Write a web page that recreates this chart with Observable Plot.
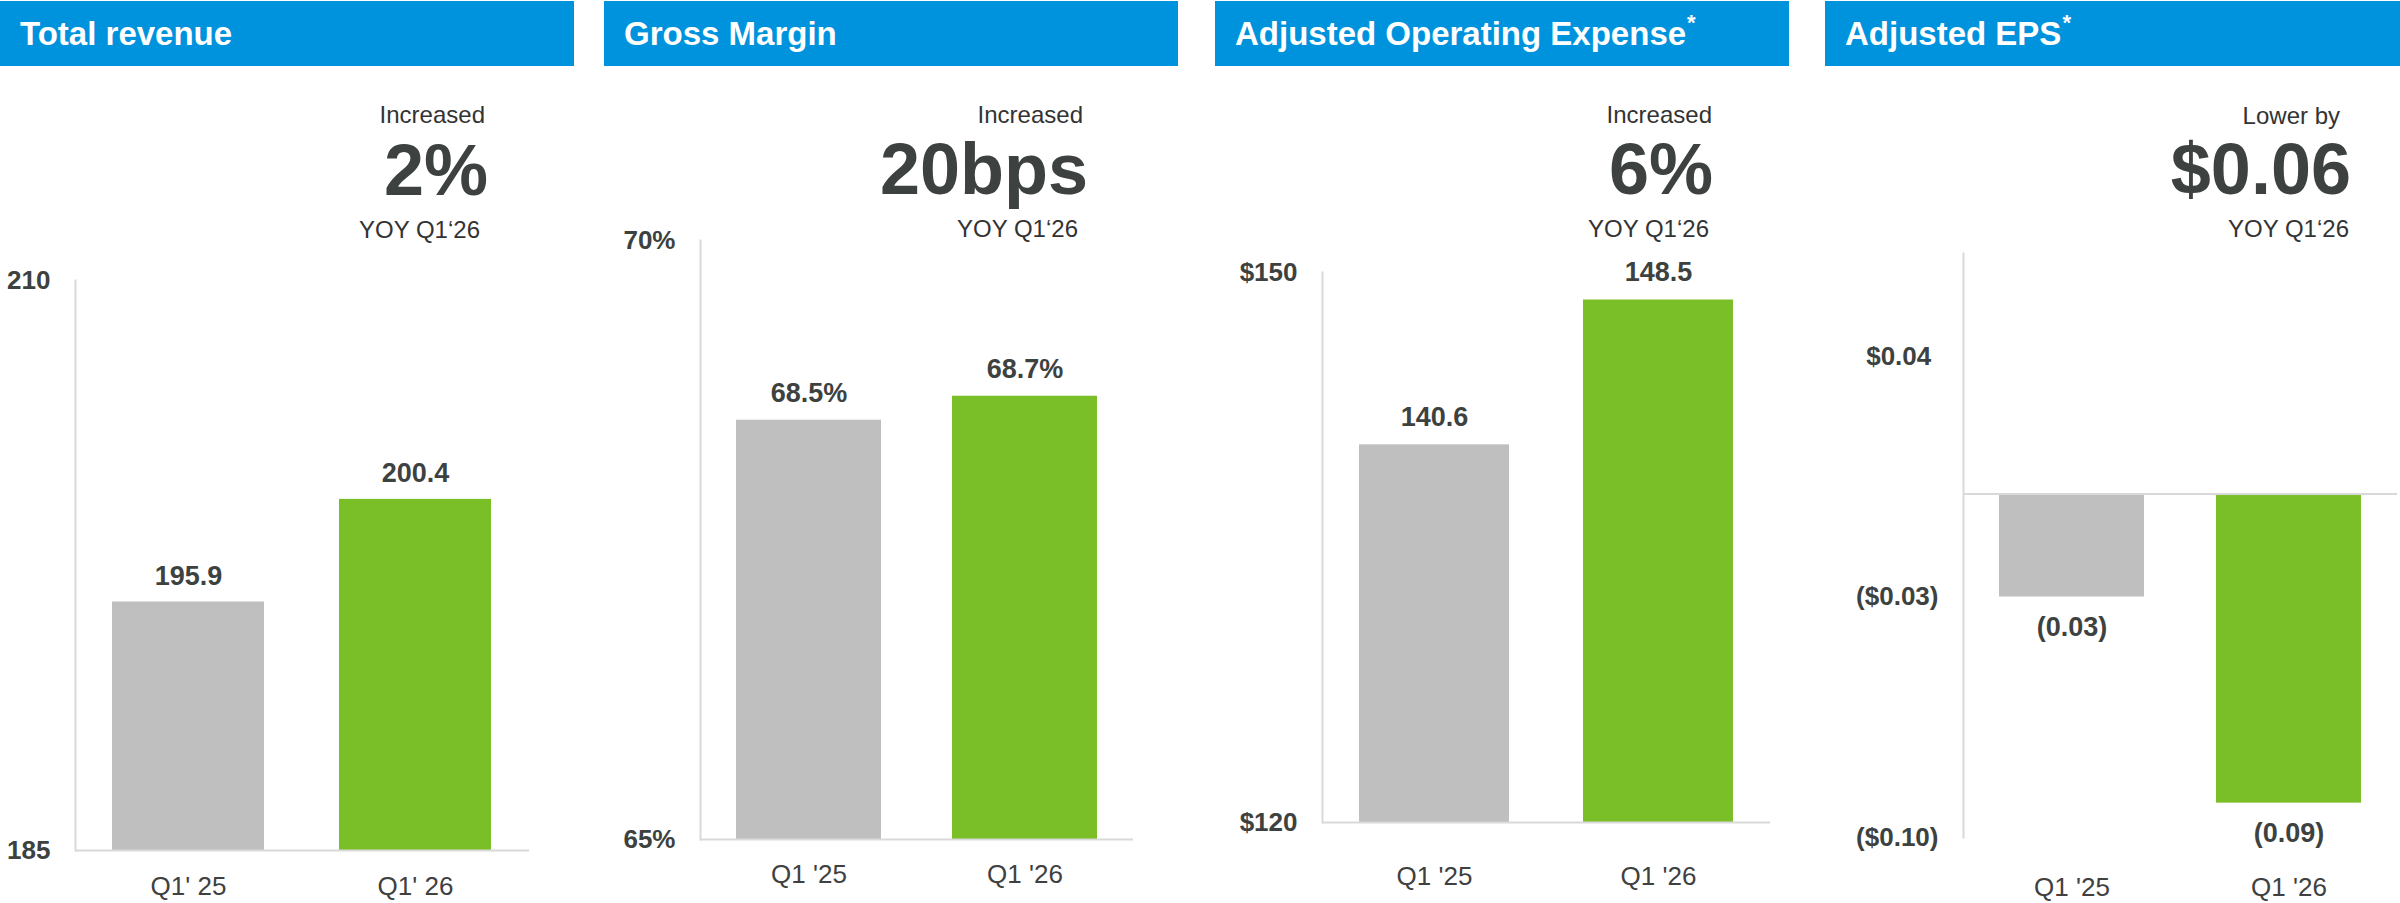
<!DOCTYPE html>
<html><head><meta charset="utf-8">
<script src="https://cdn.jsdelivr.net/npm/d3@7"></script>
<script src="https://cdn.jsdelivr.net/npm/@observablehq/plot@0.6"></script>
<style>
body{margin:0;background:#fff;}
#page{position:relative;width:2400px;height:903px;overflow:hidden;font-family:"Liberation Sans",Arial,sans-serif;background:#fff;}
.hdr{position:absolute;top:1px;height:65px;background:#0093dd;color:#fff;font-weight:bold;font-size:33px;display:flex;align-items:center;box-sizing:border-box;padding-left:20px;white-space:nowrap;}
.hdr .star{font-size:22px;position:relative;top:-11px;margin-left:1px;}
.ann{position:absolute;width:400px;text-align:right;white-space:nowrap;line-height:1;}
.chart{position:absolute;top:0;}
</style></head><body><div id="page"></div>
<script>
// ---- data ----
const titles = ["Total revenue", "Gross Margin", "Adjusted Operating Expense", "Adjusted EPS"];
const titleMarks = ["", "", "*", "*"];
const changeLabels = ["Increased", "Increased", "Increased", "Lower by"];
const changeValues = ["2%", "20bps", "6%", "$0.06"];
const periodLabel = "YOY Q1\u201826";
const revenueCategories = ["Q1' 25", "Q1' 26"];
const quarterCategories = ["Q1 '25", "Q1 '26"];
const revenue = [195.9, 200.4];
const grossMargin = [68.5, 68.7];
const adjOpex = [140.6, 148.5];
const adjEps = [-0.03, -0.09];
const revenueDomain = [185, 210];
const marginDomain = [65, 70];
const opexDomain = [120, 150];
const epsDomain = [-0.10, 0.07];
const revenueTicks = [185, 210];
const marginTicks = [65, 70];
const opexTicks = [120, 150];
const epsTicks = [-0.10, -0.03, 0.04];

// ---- formats ----
const fmt1 = d3.format(".1f");
const epsVal = d => d < 0 ? `(${Math.abs(d).toFixed(2)})` : d.toFixed(2);
const epsTick = d => d < 0 ? `($${Math.abs(d).toFixed(2)})` : `$${d.toFixed(2)}\u2008`;

const panels = [
  {cats: revenueCategories, values: revenue, domain: revenueDomain, ticks: revenueTicks,
   tickFormat: d => String(d), valueFormat: fmt1, base: revenueDomain[0]},
  {cats: quarterCategories, values: grossMargin, domain: marginDomain, ticks: marginTicks,
   tickFormat: d => d + "%", valueFormat: d => fmt1(d) + "%", base: marginDomain[0]},
  {cats: quarterCategories, values: adjOpex, domain: opexDomain, ticks: opexTicks,
   tickFormat: d => "$" + d, valueFormat: fmt1, base: opexDomain[0]},
  {cats: quarterCategories, values: adjEps, domain: epsDomain, ticks: epsTicks,
   tickFormat: epsTick, valueFormat: epsVal, base: 0}
];

// ---- layout / style ----
const layout = [
  {left: 0,    width: 574, mL: 75,  mR: 45, mT: 280, mB: 53, xPad: 26, valueDy: -17, ann: [485, 488, 480], annBase: [123, 195, 238]},
  {left: 604,  width: 574, mL: 96,  mR: 45, mT: 240, mB: 64, xPad: 25, valueDy: -18, ann: [1083, 1088, 1078], annBase: [123, 194, 237]},
  {left: 1215, width: 574, mL: 107, mR: 19, mT: 272, mB: 81, xPad: 44, valueDy: -19, ann: [1712, 1713, 1709], annBase: [123, 194, 237]},
  {left: 1825, width: 575, mL: 138, mR: 3,  mT: 253, mB: 66, xPad: 40, valueDy: 20,  ann: [2340, 2351, 2349], annBase: [124, 194, 237]}
];
const FONT = '"Liberation Sans", Arial, sans-serif';
const GRAY = "#bfbfbf", GREEN = "#7abf27", AXIS = "#d9d9d9", DARK = "#3d4240", TEXT = "#333333";

const page = document.getElementById("page");

function addText(txt, right, baseline, size, weight, color) {
  const d = document.createElement("div");
  d.className = "ann";
  d.textContent = txt;
  d.style.left = (right - 400) + "px";
  d.style.top = (baseline - 0.8465 * size) + "px";
  d.style.fontSize = size + "px";
  d.style.fontWeight = weight;
  d.style.color = color;
  page.appendChild(d);
}

panels.forEach((p, i) => {
  const L = layout[i];
  // header
  const h = document.createElement("div");
  h.className = "hdr";
  h.style.left = L.left + "px";
  h.style.width = L.width + "px";
  h.textContent = titles[i];
  if (titleMarks[i]) {
    const s = document.createElement("span");
    s.className = "star";
    s.textContent = titleMarks[i];
    h.appendChild(s);
  }
  page.appendChild(h);
  // annotation
  addText(changeLabels[i], L.ann[0], L.annBase[0], 24, "normal", TEXT);
  addText(changeValues[i], L.ann[1], L.annBase[1], 72, "bold", DARK);
  addText(periodLabel, L.ann[2], L.annBase[2], 24, "normal", TEXT);

  const data = p.cats.map((c, j) => ({cat: c, value: p.values[j]}));
  const negative = i === 3;
  const chart = Plot.plot({
    width: L.width, height: 903,
    marginLeft: L.mL, marginRight: L.mR, marginTop: L.mT, marginBottom: L.mB,
    style: {fontFamily: FONT, color: DARK, overflow: "visible", background: "transparent"},
    x: {domain: p.cats, paddingInner: 0.33, paddingOuter: 0.165, axis: null},
    y: {domain: p.domain, axis: null},
    color: {domain: p.cats, range: [GRAY, GREEN]},
    marks: [
      Plot.barY(data, {x: "cat", y1: p.base, y2: "value", fill: "cat"}),
      Plot.frame({anchor: "left", stroke: AXIS, strokeWidth: 2}),
      Plot.ruleY([p.base], {stroke: AXIS, strokeWidth: 2}),
      Plot.axisY({ticks: p.ticks, tickFormat: p.tickFormat, tickSize: 0, tickPadding: 25,
                  fontSize: 26, fontWeight: "bold", fill: DARK, label: null}),
      Plot.axisX({tickSize: 0, tickPadding: L.xPad, fontSize: 26, fill: "#404040", label: null}),
      Plot.text(data, {x: "cat", y: "value", text: d => p.valueFormat(d.value),
                       lineAnchor: negative ? "top" : "bottom", dy: L.valueDy,
                       fontSize: 27, fontWeight: "bold", fill: DARK})
    ]
  });
  chart.classList.add("chart");
  chart.style.left = L.left + "px";
  page.appendChild(chart);
});
</script></body></html>
